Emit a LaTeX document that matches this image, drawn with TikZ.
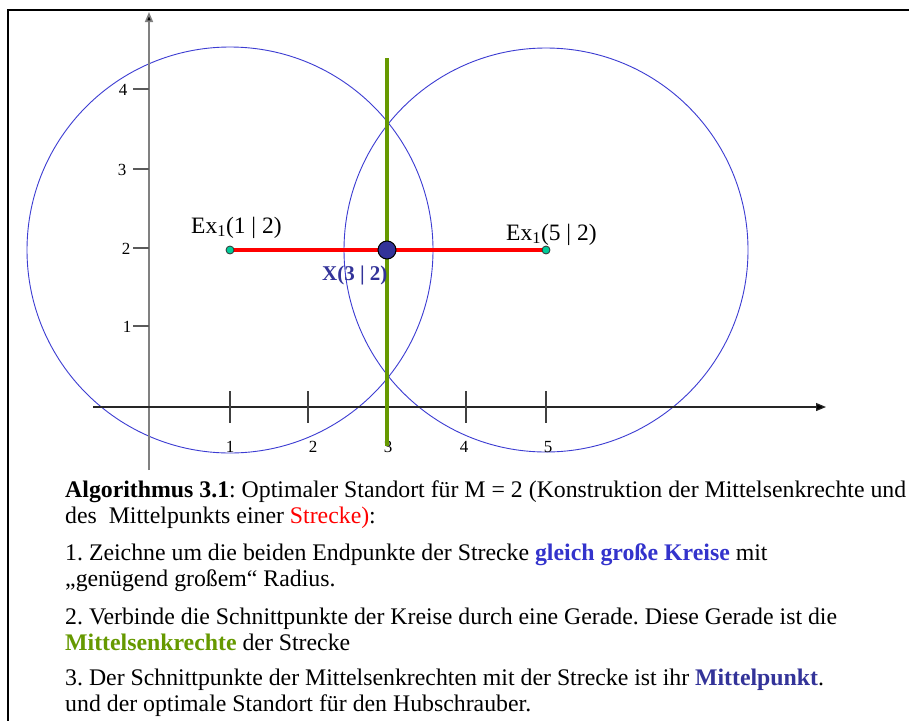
\documentclass[tikz,border=0pt]{standalone}
\usepackage{fontspec}
\setmainfont{Liberation Serif}
\usetikzlibrary{arrows.meta}
\definecolor{circblue}{RGB}{60,60,210}
\definecolor{segred}{RGB}{255,0,0}
\definecolor{mgreen}{RGB}{102,153,0}
\definecolor{navy}{RGB}{51,51,153}
\definecolor{kblue}{RGB}{51,51,204}
\definecolor{teal2}{RGB}{0,204,153}
\definecolor{axgray}{RGB}{128,128,128}
\tikzset{
  circ/.style={draw=circblue, line width=0.9pt},
  yaxis/.style={draw=axgray, line width=1.6pt, -{Triangle[length=10pt,width=8pt,fill=black]}},
  xaxis/.style={draw=black!85, line width=1.2pt, -{Triangle[length=10pt,width=8pt,fill=black]}},
  tick/.style={draw=black!75, line width=1.3pt},
  ytick/.style={draw=axgray!70!black, line width=1.3pt},
  ticklab/.style={font=\fontsize{17}{20}\selectfont, inner sep=0pt},
  endpt/.style={circle, draw=black!80, fill=teal2, minimum size=8pt, inner sep=0pt, line width=0.8pt},
  midpt/.style={circle, draw=black, fill=navy, minimum size=18pt, inner sep=0pt, line width=1pt},
  ptlab/.style={font=\fontsize{23.5}{25}\selectfont, anchor=base west, inner sep=0pt},
  txt/.style={font=\fontsize{23.8}{25}\selectfont, anchor=base west, inner sep=0pt},
  frame/.style={draw=black, line width=2.5pt}
}
\frenchspacing
\begin{document}
\begin{tikzpicture}[x=1pt,y=-1pt]
\useasboundingbox (0,0) rectangle (909,720);
\fill[white] (0,0) rectangle (909,720);
% frame
\draw[frame] (8,722) -- (8,10) -- (911,10);
% circles
\coordinate (c1) at (230,250);
\coordinate (c2) at (546,250);
\draw[circ] (c1) circle[radius=203pt];
\draw[circ] (c2) circle[radius=202pt];
% axes
\coordinate (ya) at (149,470);
\coordinate (yb) at (149,12);
\coordinate (xa) at (93,407);
\coordinate (xb) at (826,407);
\draw[yaxis] (ya) -- (yb);
\draw[xaxis] (xa) -- (xb);
% x ticks
\foreach \x/\l/\lx in {230/1/230,308/2/313,387/3/388,466/4/464,546/5/548}{
  \draw[tick] (\x,391) -- (\x,423);
  \node[ticklab] (xl\l) at (\lx,447) {\l};
}
% y ticks
\foreach \y/\l/\lx in {89/4/123,169/3/122,248/2/126,326/1/127}{
  \draw[ytick] (133,\y) -- (149,\y);
  \node[ticklab] (yl\l) at (\lx,\y+1) {\l};
}
% perpendicular bisector
\coordinate (g1) at (387,58);
\coordinate (g2) at (387,446);
\draw[draw=mgreen, line width=3.5pt] (g1) -- (g2);
% segment
\draw[draw=segred, line width=4pt] (c1) -- (c2);
% points
\node[endpt] (e1) at (c1) {};
\node[endpt] (e2) at (c2) {};
\node[midpt] (m) at (387,250) {};
% point labels
\node[ptlab] (l1) at (191,233) {Ex\textsubscript{1}(1 | 2)};
\node[ptlab] (l2) at (506,240) {Ex\textsubscript{1}(5 | 2)};
\node[ptlab, font=\fontsize{21}{22}\selectfont\bfseries, text=navy] (lx) at (322,280) {X(3 | 2)};
% text
\node[txt] (t1) at (65,497) {\textbf{Algorithmus 3.1}: Optimaler Standort für M = 2 (Konstruktion der Mittelsenkrechte und};
\node[txt] (t2) at (65,523) {des\ \ Mittelpunkts einer \textcolor{segred}{Strecke)}:};
\node[txt] (t3) at (65,560) {1. Zeichne um die beiden Endpunkte der Strecke \textbf{\color{kblue}gleich große Kreise} mit};
\node[txt] (t4) at (65,586) {„genügend großem“ Radius.};
\node[txt] (t5) at (65,624) {2. Verbinde die Schnittpunkte der Kreise durch eine Gerade. Diese Gerade ist die};
\node[txt] (t6) at (65,650) {\textbf{\color{mgreen}Mittelsenkrechte} der Strecke};
\node[txt] (t7) at (65,685) {3. Der Schnittpunkte der Mittelsenkrechten mit der Strecke ist ihr \textbf{\color{navy}Mittelpunkt}.};
\node[txt] (t8) at (65,711) {und der optimale Standort für den Hubschrauber.};
\end{tikzpicture}
\end{document}
